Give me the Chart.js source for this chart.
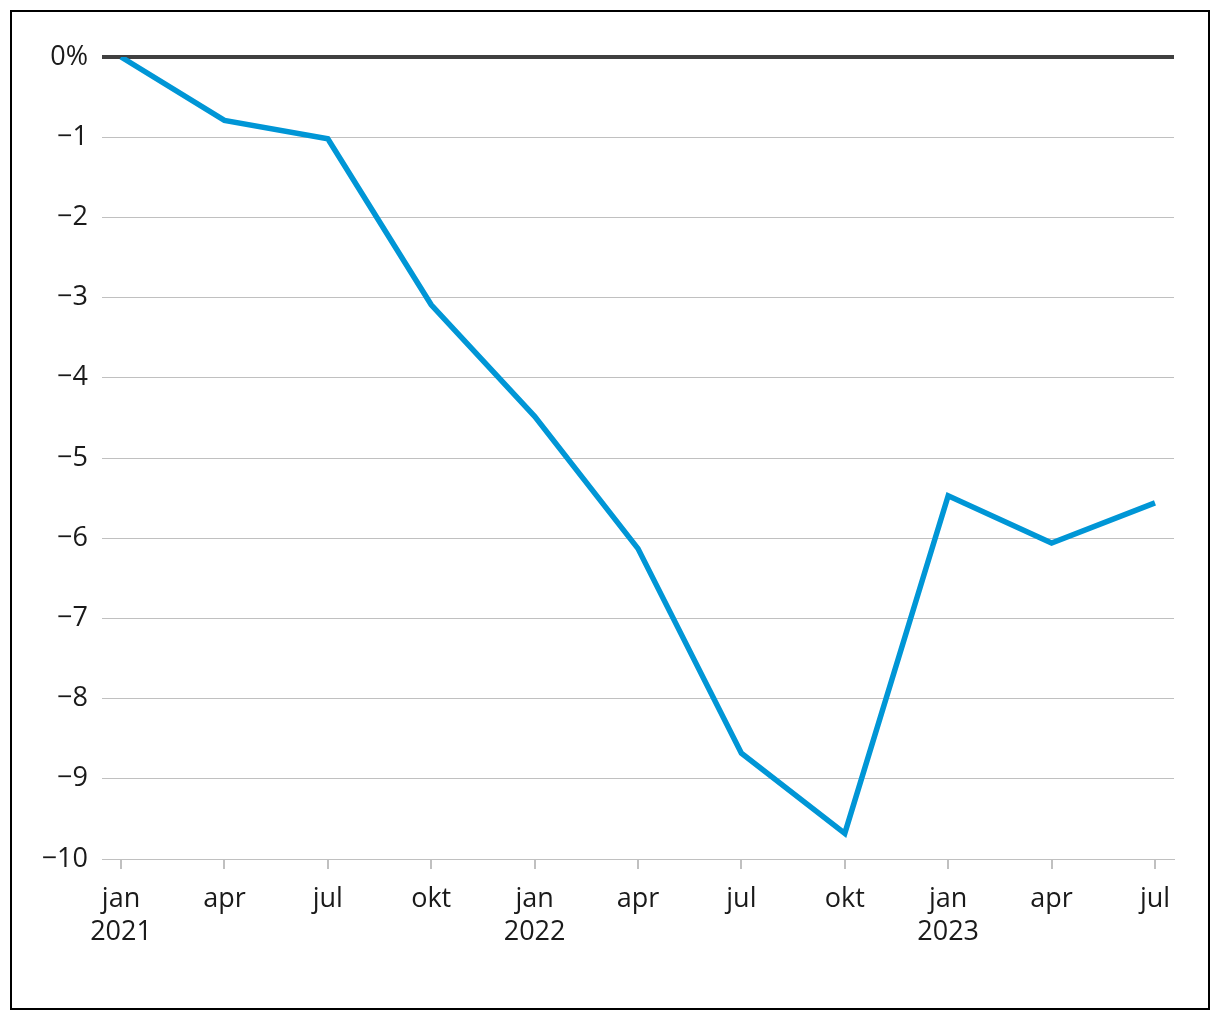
<!DOCTYPE html>
<html>
<head>
<meta charset="utf-8">
<script src="https://cdn.jsdelivr.net/npm/chart.js@4/dist/chart.umd.min.js"></script>
<style>
  html, body { margin: 0; padding: 0; background: #fff; }
  #frame {
    position: absolute; left: 10px; top: 10px;
    width: 1200px; height: 1000px;
    box-sizing: border-box; border: 2px solid #000;
  }
  #wrap { position: absolute; left: 0; top: 0; width: 1196px; height: 996px; }
</style>
</head>
<body>
<div id="frame"><div id="wrap"><canvas id="chart"></canvas></div></div>
<script>
var months = ["jan", "apr", "jul", "okt", "jan", "apr", "jul", "okt", "jan", "apr", "jul"];
var years = ["2021", "", "", "", "2022", "", "", "", "2023", "", ""];
var values = [0, -0.79, -1.02, -3.09, -4.48, -6.13, -8.68, -9.68, -5.47, -6.06, -5.56];
var yTicks = [0, -1, -2, -3, -4, -5, -6, -7, -8, -9, -10];

var points = values.map(function (v, i) { return { x: i, y: v }; });
var fontSpec = { family: "'Open Sans', sans-serif", size: 27, lineHeight: 1.22 };

function yLabel(v) {
  if (v === 0) return "0%";
  return (v < 0 ? "\u2212" : "") + Math.abs(v);
}

var config = {
  type: "line",
  data: {
    datasets: [{
      data: points,
      borderColor: "#0096d6",
      borderWidth: 5.5,
      pointRadius: 0,
      tension: 0,
      borderJoinStyle: "miter"
    }]
  },
  options: {
    responsive: true,
    maintainAspectRatio: false,
    animation: false,
    layout: { padding: { top: 45, right: 34, left: 0, bottom: 0 } },
    plugins: { legend: { display: false }, tooltip: { enabled: false } },
    scales: {
      x: {
        type: "linear",
        min: -0.184,
        max: 10.184,
        afterBuildTicks: function (scale) {
          scale.ticks = months.map(function (m, i) { return { value: i }; });
        },
        afterFit: function (scale) { scale.height = 149; },
        grid: {
          drawOnChartArea: false,
          drawTicks: true,
          tickLength: 10,
          color: "#c0c0c0",
          lineWidth: 2
        },
        border: { display: true, color: "#c0c0c0", width: 1 },
        ticks: {
          color: "#1a1a1a",
          font: fontSpec,
          padding: 14,
          maxRotation: 0,
          autoSkip: false,
          callback: function (v) {
            var i = Math.round(v);
            return years[i] ? [months[i], years[i]] : months[i];
          }
        }
      },
      y: {
        min: -10,
        max: 0,
        afterBuildTicks: function (scale) {
          scale.ticks = yTicks.map(function (v) { return { value: v }; });
        },
        afterFit: function (scale) { scale.width = 90; },
        grid: {
          drawTicks: false,
          color: function (ctx) { return ctx.tick && ctx.tick.value === 0 ? "#404040" : "#c0c0c0"; },
          lineWidth: function (ctx) { return ctx.tick && ctx.tick.value === 0 ? 4 : 1; }
        },
        border: { display: false },
        ticks: {
          color: "#1a1a1a",
          font: fontSpec,
          padding: 14,
          callback: function (v) { return yLabel(v); }
        }
      }
    }
  }
};

new Chart(document.getElementById("chart"), config);
</script>
</body>
</html>
